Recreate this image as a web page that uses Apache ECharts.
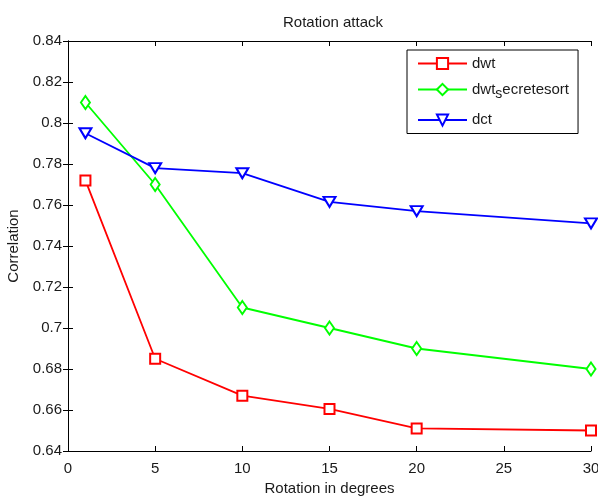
<!DOCTYPE html>
<html>
<head>
<meta charset="utf-8">
<script src="https://cdn.jsdelivr.net/npm/echarts@6/dist/echarts.min.js"></script>
<style>
  html, body { margin: 0; padding: 0; background: #fff; }
  #chart { width: 598px; height: 496px; }
</style>
</head>
<body>
<div id="chart"></div>
<script>
// rotation angles (degrees)
const angles = [1, 5, 10, 15, 20, 30]
const dwt = [0.772, 0.685, 0.667, 0.6605, 0.651, 0.650]
const dwtSecretesort = [0.810, 0.770, 0.710, 0.700, 0.690, 0.680]
const dct = [0.795, 0.778, 0.7755, 0.7615, 0.757, 0.751]
const seriesNames = ['dwt', 'dwt_secretesort', 'dct']

const font = '"Liberation Sans", Arial, sans-serif'
const textColor = '#1a1a1a'
const pair = (ys) => angles.map((x, i) => [x, ys[i]])

const chart = echarts.init(document.getElementById('chart'))

const axisCommon = {
  type: 'value',
  axisLine: { show: true, lineStyle: { color: '#000', width: 1 } },
  axisTick: { show: true, inside: true, length: 5, lineStyle: { color: '#000' } },
  splitLine: { show: false }
}

chart.setOption({
  animation: false,
  backgroundColor: '#fff',
  title: {
    text: 'Rotation attack',
    left: 328,
    top: 10,
    textAlign: 'center',
    textStyle: { fontFamily: font, fontSize: 15, fontWeight: 'normal', color: textColor }
  },
  grid: { left: 68, right: 7, top: 41, bottom: 45, containLabel: false, outerBoundsMode: 'none' },
  legend: {
    orient: 'vertical',
    left: 407,
    top: 50,
    padding: [6, 9, 6, 10],
    itemWidth: 49,
    itemHeight: 14,
    itemGap: 11,
    borderColor: '#000',
    borderWidth: 1,
    backgroundColor: '#fff',
    data: seriesNames,
    formatter: (name) => name === 'dwt_secretesort' ? '{n|dwt}{s|s}{n|ecretesort}' : name,
    textStyle: {
      fontFamily: font,
      fontSize: 15,
      color: textColor,
      rich: {
        n: { fontFamily: font, fontSize: 15, color: textColor },
        s: { fontFamily: font, fontSize: 14, color: textColor, padding: [10, 0, 0, 0] }
      }
    }
  },
  xAxis: [
    {
      ...axisCommon,
      min: 0, max: 30, interval: 5,
      name: 'Rotation in degrees',
      nameLocation: 'middle',
      nameGap: 29,
      nameTextStyle: { fontFamily: font, fontSize: 15, color: textColor },
      axisLabel: { fontFamily: font, fontSize: 15, color: textColor, margin: 10 }
    },
    {
      ...axisCommon,
      position: 'top',
      min: 0, max: 30, interval: 5,
      axisLabel: { show: false }
    }
  ],
  yAxis: [
    {
      ...axisCommon,
      min: 0.64, max: 0.84, interval: 0.02,
      name: 'Correlation',
      nameLocation: 'middle',
      nameGap: 47,
      nameTextStyle: { fontFamily: font, fontSize: 15, color: textColor },
      axisLabel: {
        fontFamily: font, fontSize: 15, color: textColor, margin: 6,
        formatter: (v) => String(Number(v.toFixed(2)))
      }
    },
    {
      ...axisCommon,
      position: 'right',
      min: 0.64, max: 0.84, interval: 0.02,
      axisLabel: { show: false }
    }
  ],
  series: [
    {
      name: 'dwt',
      type: 'line',
      data: pair(dwt),
      symbol: 'emptyRect',
      symbolSize: 10,
      color: '#ff0000',
      lineStyle: { color: '#ff0000', width: 1.8 },
      itemStyle: { color: '#ff0000', borderWidth: 2 }
    },
    {
      name: 'dwt_secretesort',
      type: 'line',
      data: pair(dwtSecretesort),
      symbol: 'emptyDiamond',
      symbolSize: [9, 13],
      color: '#00ff00',
      lineStyle: { color: '#00ff00', width: 1.8 },
      itemStyle: { color: '#00ff00', borderWidth: 2 }
    },
    {
      name: 'dct',
      type: 'line',
      data: pair(dct),
      symbol: 'emptyTriangle',
      symbolRotate: 180,
      symbolSize: [12, 10],
      color: '#0000ff',
      lineStyle: { color: '#0000ff', width: 1.8 },
      itemStyle: { color: '#0000ff', borderWidth: 2 }
    }
  ]
})
</script>
</body>
</html>
